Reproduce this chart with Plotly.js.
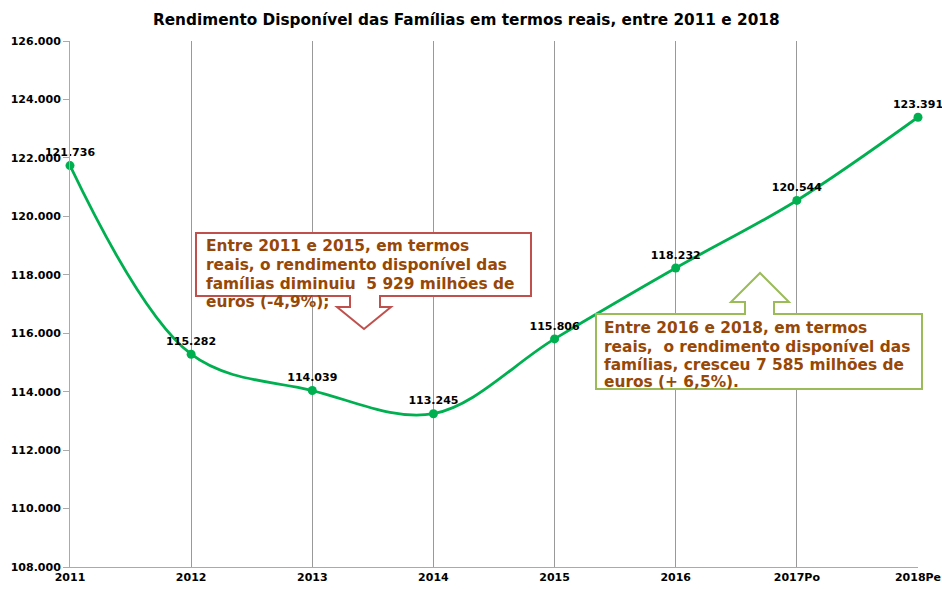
<!DOCTYPE html>
<html><head><meta charset="utf-8">
<script src="https://cdn.plot.ly/plotly-3.0.1.min.js"></script>
<style>html,body{margin:0;padding:0;background:#fff}#chart{width:942px;height:589px}</style>
</head><body><div id="chart"></div>
<script>
const categories = ["2011","2012","2013","2014","2015","2016","2017Po","2018Pe"];
const values = [121736, 115282, 114039, 113245, 115806, 118232, 120544, 123391];
const yTicks = [108000,110000,112000,114000,116000,118000,120000,122000,124000,126000];
const titleText = "Rendimento Disponível das Famílias em termos reais, entre 2011 e 2018";
const noteRed = ["Entre 2011 e 2015, em termos", "reais, o rendimento disponível das", "famílias diminuiu  5 929 milhões de", "euros (-4,9%);"];
const noteGreen = ["Entre 2016 e 2018, em termos", "reais,  o rendimento disponível das", "famílias, cresceu 7 585 milhões de", "euros (+ 6,5%)."];

const W = 942, H = 589, L = 70, R = 918, T = 41, B = 567;
const px = x => (x - L) / (R - L);
const py = y => (B - y) / (B - T);
function path(pts){ return pts.map((p,i)=> (i?'L':'M') + px(p[0]).toFixed(5) + ',' + py(p[1]).toFixed(5)).join(' ') + ' Z'; }

const FONT = "DejaVu Sans, Verdana, sans-serif";
const trace = {
  x: categories, y: values, type: 'scatter', mode: 'lines+markers+text',
  line: {color: '#00b050', width: 2.8, shape: 'spline', smoothing: 1},
  marker: {color: '#00b050', size: 9},
  text: values.map(v => v.toLocaleString('de-DE')),
  textposition: 'top center',
  textfont: {family: FONT, size: 11, color: '#000', weight: 'bold'},
  cliponaxis: false, hoverinfo: 'skip'
};

const redPath = path([[196,233],[531,233],[531,296],[380,296],[380,307],[391,307],[364,329],[337,307],[350,307],[350,296],[196,296]]);
const greenPath = path([[596,314],[745,314],[745,302],[731,302],[760,273],[789,302],[774,302],[774,314],[922,314],[922,389],[596,389]]);

function noteLines(lines, x0, yCenters){
  return lines.map((t, i) => ({xref: 'paper', yref: 'paper', x: px(x0), y: py(yCenters[i]),
    xanchor: 'left', yanchor: 'middle', align: 'left', showarrow: false,
    text: '<b>' + t + '</b>', font: {family: FONT, size: 15.4, color: '#974706'}}));
}

const layout = {
  width: W, height: H,
  margin: {l: L, r: W - R, t: T, b: H - B, pad: 0},
  paper_bgcolor: '#fff', plot_bgcolor: '#fff',
  showlegend: false,
  separators: ',.',
  title: {text: '<b>' + titleText + '</b>', font: {family: FONT, size: 15.3, color: '#000'},
          x: 0.495, xref: 'container', y: 1 - 20/H, yref: 'container', xanchor: 'center', yanchor: 'middle'},
  xaxis: {type: 'category', categoryarray: categories, range: [0, 7],
          showgrid: true, gridcolor: '#999', gridwidth: 1,
          showline: true, linecolor: '#aaa', linewidth: 1,
          ticks: '', ticklen: 0,
          tickfont: {family: FONT, size: 11, color: '#000', weight: 'bold'}, zeroline: false},
  yaxis: {range: [108000, 126000], tickvals: yTicks, ticktext: yTicks.map(v => v.toLocaleString('de-DE')),
          showgrid: false, zeroline: false, showline: true, linecolor: '#aaa', linewidth: 1,
          ticks: 'outside', ticklen: 6, tickcolor: '#aaa', tickwidth: 1,
          tickfont: {family: FONT, size: 11, color: '#000', weight: 'bold'}},
  shapes: [
    {type: 'path', xref: 'paper', yref: 'paper', path: redPath, fillcolor: '#fff', line: {color: '#c0504d', width: 2}, layer: 'above'},
    {type: 'path', xref: 'paper', yref: 'paper', path: greenPath, fillcolor: '#fff', line: {color: '#9bbb59', width: 2}, layer: 'above'}
  ],
  annotations: [].concat(
    noteLines(noteRed, 204, [246, 265, 284, 302]),
    noteLines(noteGreen, 602, [328, 347, 365, 382])
  )
};
Plotly.newPlot('chart', [trace], layout, {staticPlot: true, displayModeBar: false});
</script></body></html>
